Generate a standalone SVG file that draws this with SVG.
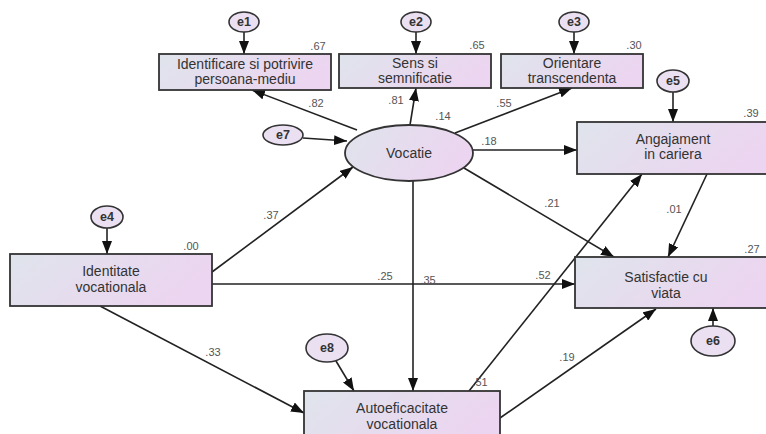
<svg xmlns="http://www.w3.org/2000/svg" width="766" height="434" viewBox="0 0 766 434">
<style>
.box{stroke:#333;stroke-width:1.8;fill:url(#g)}
.err{stroke:#333;stroke-width:1.6;fill:#ebe0f1}
.lbl{font-family:"Liberation Sans",Arial,sans-serif;font-size:14px;fill:#333;text-anchor:middle}
.el{font-family:"Liberation Sans",Arial,sans-serif;font-size:12.5px;fill:#333;text-anchor:middle;font-weight:bold}
.num{font-family:"Liberation Sans",Arial,sans-serif;font-size:11px;fill:#555;text-anchor:middle}
.c line{stroke:#222;stroke-width:1.6;marker-end:url(#a)}
</style>
<defs>
<linearGradient id="g" x1="0" y1="0" x2="1" y2="0.3">
<stop offset="0" stop-color="#dfe4ec"/>
<stop offset="1" stop-color="#ecd5f0"/>
</linearGradient>
<marker id="a" markerUnits="userSpaceOnUse" markerWidth="14" markerHeight="10" refX="13" refY="5" orient="auto">
<path d="M0,0 L13,5 L0,10 Z" fill="#111"/>
</marker>
</defs>
<rect width="766" height="434" fill="#fff"/>
<g class="c" id="connectors">
<line x1="244" y1="32" x2="244" y2="54"/>
<line x1="416" y1="32" x2="416" y2="54"/>
<line x1="574" y1="32" x2="574" y2="54"/>
<line x1="673" y1="92" x2="673" y2="122"/>
<line x1="107" y1="228" x2="107" y2="254"/>
<line x1="713" y1="326" x2="713" y2="308"/>
<line x1="303" y1="138" x2="347" y2="141"/>
<line x1="336" y1="361" x2="354" y2="391"/>
<line x1="357" y1="130" x2="252" y2="90"/>
<line x1="410" y1="125" x2="416" y2="88"/>
<line x1="455" y1="133" x2="572" y2="88"/>
<line x1="473" y1="150" x2="577" y2="150"/>
<line x1="464" y1="168" x2="614" y2="257"/>
<line x1="413" y1="181" x2="413" y2="391"/>
<line x1="212" y1="272" x2="353" y2="167"/>
<line x1="212" y1="284" x2="575" y2="284"/>
<line x1="100" y1="306" x2="304" y2="413"/>
<line x1="469" y1="391" x2="642" y2="174"/>
<line x1="500" y1="418" x2="656" y2="309"/>
<line x1="707" y1="174" x2="668" y2="257"/>
</g>
<g id="n_ident_pot"><rect class="box" x="159" y="54" width="172" height="36"/><text class="lbl" x="245" y="69">Identificare si potrivire</text><text class="lbl" x="245" y="84">persoana-mediu</text></g>
<g id="n_sens"><rect class="box" x="339" y="54" width="152" height="34"/><text class="lbl" x="415" y="68">Sens si</text><text class="lbl" x="415" y="83">semnificatie</text></g>
<g id="n_orient"><rect class="box" x="501" y="54" width="142" height="34"/><text class="lbl" x="572" y="68">Orientare</text><text class="lbl" x="572" y="83">transcendenta</text></g>
<g id="n_angaj"><rect class="box" x="577" y="122" width="195" height="52"/><text class="lbl" x="673" y="144">Angajament</text><text class="lbl" x="673" y="159">in cariera</text></g>
<g id="n_vocatie"><ellipse cx="409" cy="153" rx="64" ry="28" class="box"/><text class="lbl" x="409" y="158">Vocatie</text></g>
<g id="n_identitate"><rect class="box" x="10" y="254" width="202" height="52"/><text class="lbl" x="111" y="276">Identitate</text><text class="lbl" x="111" y="292">vocationala</text></g>
<g id="n_satisf"><rect class="box" x="575" y="257" width="197" height="51"/><text class="lbl" x="666" y="282">Satisfactie cu</text><text class="lbl" x="666" y="298">viata</text></g>
<g id="n_autoef"><rect class="box" x="304" y="391" width="196" height="52"/><text class="lbl" x="402" y="413">Autoeficacitate</text><text class="lbl" x="402" y="429">vocationala</text></g>
<g id="e1"><ellipse class="err" cx="244" cy="22" rx="15" ry="10"/><text class="el" x="244" y="26">e1</text></g>
<g id="e2"><ellipse class="err" cx="416" cy="22" rx="15" ry="10"/><text class="el" x="416" y="26">e2</text></g>
<g id="e3"><ellipse class="err" cx="574" cy="22" rx="15" ry="10"/><text class="el" x="574" y="26">e3</text></g>
<g id="e5"><ellipse class="err" cx="673" cy="81" rx="16" ry="11"/><text class="el" x="673" y="85">e5</text></g>
<g id="e7"><ellipse class="err" cx="283" cy="135" rx="20" ry="10"/><text class="el" x="283" y="139">e7</text></g>
<g id="e4"><ellipse class="err" cx="107" cy="217" rx="16" ry="11"/><text class="el" x="107" y="221">e4</text></g>
<g id="e6"><ellipse class="err" cx="713" cy="341" rx="22" ry="15"/><text class="el" x="713" y="345">e6</text></g>
<g id="e8"><ellipse class="err" cx="327" cy="348" rx="21" ry="14"/><text class="el" x="327" y="352">e8</text></g>
<g id="labels">
<text class="num" x="318" y="50">.67</text>
<text class="num" x="477" y="49">.65</text>
<text class="num" x="634" y="49">.30</text>
<text class="num" x="751" y="117">.39</text>
<text class="num" x="191" y="250">.00</text>
<text class="num" x="752" y="253">.27</text>
<text class="num" x="443" y="120">.14</text>
<text class="num" x="316" y="107">.82</text>
<text class="num" x="396" y="104">.81</text>
<text class="num" x="504" y="107">.55</text>
<text class="num" x="489" y="145">.18</text>
<text class="num" x="552" y="207">.21</text>
<text class="num" x="271" y="219">.37</text>
<text class="num" x="385" y="280">.25</text>
<text class="num" x="428" y="284">.35</text>
<text class="num" x="543" y="279">.52</text>
<text class="num" x="213" y="356">.33</text>
<text class="num" x="480" y="386">.51</text>
<text class="num" x="567" y="361">.19</text>
<text class="num" x="674" y="213">.01</text>
</g>
</svg>
